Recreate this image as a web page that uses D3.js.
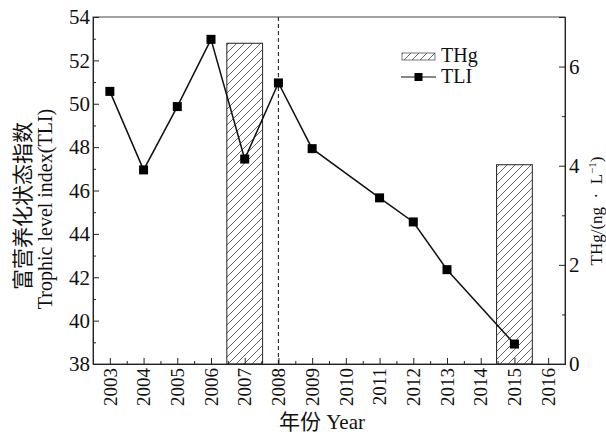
<!DOCTYPE html>
<html><head><meta charset="utf-8">
<script src="https://cdn.jsdelivr.net/npm/d3@7"></script>
<style>
html,body{margin:0;padding:0;background:#fff;}
</style></head><body>
<svg id="c" width="606" height="434"></svg>
<script>
const years = [2003,2004,2005,2006,2007,2008,2009,2011,2012,2013,2015];
const tli = [50.57,46.95,49.87,52.97,47.45,50.96,47.93,45.66,44.55,42.35,38.92];
const thgYears = [2007,2015];
const thg = [6.47,4.02];
const xTickYears = [2003,2004,2005,2006,2007,2008,2009,2010,2011,2012,2013,2014,2015,2016];
const leftTicks = [38,40,42,44,46,48,50,52,54];
const rightTicks = [0,2,4,6];
const markYear = 2008;

const SERIF = "'Liberation Serif','Times New Roman','DejaVu Serif',serif";
const CJK = "'Liberation Serif','Noto Sans CJK SC',serif";

const svg = d3.select("#c");
const L=93, R=565, T=17, B=364;
const x = d3.scaleLinear().domain([2002.5,2016.5]).range([L,R]);
const yL = d3.scaleLinear().domain([38,54]).range([B,T]);
const yR = d3.scaleLinear().domain([0,7]).range([B,T]);

const defs = svg.append("defs");
const pat = defs.append("pattern").attr("id","hatch").attr("patternUnits","userSpaceOnUse")
  .attr("width",8).attr("height",8);
pat.append("path").attr("d","M-2,2 L2,-2 M0,8 L8,0 M6,10 L10,6").attr("stroke","#555").attr("stroke-width",0.9);

// bars
const bw = 1.06;
svg.selectAll("rect.bar").data(thgYears).join("rect").attr("class","bar")
  .attr("x",d=>x(d-bw/2)).attr("width",d=>x(d+bw/2)-x(d-bw/2))
  .attr("y",(d,i)=>yR(thg[i])).attr("height",(d,i)=>yR(0)-yR(thg[i]))
  .attr("fill","url(#hatch)").attr("stroke","#222").attr("stroke-width",1);

// dashed line
svg.append("line").attr("x1",x(markYear)).attr("x2",x(markYear)).attr("y1",T).attr("y2",B)
  .attr("stroke","#333").attr("stroke-width",1.2).attr("stroke-dasharray","4,3");

// frame
svg.append("rect").attr("x",L).attr("y",T).attr("width",R-L).attr("height",B-T)
  .attr("fill","none").attr("stroke","#444").attr("stroke-width",1);

// axes
const minorL = d3.range(39,54,2);
const gL = svg.append("g").attr("transform",`translate(${L},0)`);
gL.call(d3.axisRight(yL).tickValues(leftTicks).tickSize(6).tickFormat(""));
gL.call(g=>g.select(".domain").attr("stroke","#222"));
const gLm = svg.append("g").attr("transform",`translate(${L},0)`)
  .call(d3.axisRight(yL).tickValues(minorL).tickSize(3).tickFormat(""));
gLm.select(".domain").remove();
svg.append("g").selectAll("text").data(leftTicks).join("text")
  .attr("x",L-3).attr("y",d=>yL(d)).attr("dy","0.35em").attr("text-anchor","end")
  .attr("font-family",SERIF).attr("font-size",21).attr("fill","#111").text(d=>d);

const gR = svg.append("g").attr("transform",`translate(${R},0)`)
  .call(d3.axisLeft(yR).tickValues(rightTicks).tickSize(6).tickFormat(""));
gR.select(".domain").attr("stroke","#222");
const gRm = svg.append("g").attr("transform",`translate(${R},0)`)
  .call(d3.axisLeft(yR).tickValues([1,3,5]).tickSize(3).tickFormat(""));
gRm.select(".domain").remove();
svg.append("g").selectAll("text").data(rightTicks).join("text")
  .attr("x",R+4).attr("y",d=>yR(d)).attr("dy","0.35em").attr("text-anchor","start")
  .attr("font-family",SERIF).attr("font-size",21).attr("fill","#111").text(d=>d);

const gB = svg.append("g").attr("transform",`translate(0,${B})`)
  .call(d3.axisTop(x).tickValues(xTickYears).tickSize(6).tickFormat(""));
gB.select(".domain").attr("stroke","#222");
const gBm = svg.append("g").attr("transform",`translate(0,${B})`)
  .call(d3.axisTop(x).tickValues(d3.range(2003.5,2016,1)).tickSize(3).tickFormat(""));
gBm.select(".domain").remove();
svg.selectAll("g.tick line").attr("stroke","#222");
svg.append("g").selectAll("text").data(xTickYears).join("text")
  .attr("transform",d=>`translate(${x(d)},${B+4}) rotate(-90)`)
  .attr("dy","0.35em").attr("text-anchor","end")
  .attr("font-family",SERIF).attr("font-size",19).attr("fill","#111").text(d=>d);

// TLI line and markers
const line = d3.line().x((d,i)=>x(years[i])).y(d=>yL(d));
svg.append("path").datum(tli).attr("d",line).attr("fill","none").attr("stroke","#111").attr("stroke-width",1.5);
svg.selectAll("rect.mk").data(tli).join("rect").attr("class","mk")
  .attr("x",(d,i)=>x(years[i])-4.5).attr("y",d=>yL(d)-4.5).attr("width",9).attr("height",9).attr("fill","#000");

// legend
const lg = svg.append("g");
lg.append("rect").attr("x",402).attr("y",53).attr("width",33).attr("height",7)
  .attr("fill","url(#hatch)").attr("stroke","#555").attr("stroke-width",0.8);
lg.append("text").attr("x",441).attr("y",62).attr("font-family",SERIF).attr("font-size",20).attr("fill","#111").text("THg");
lg.append("line").attr("x1",401).attr("x2",436).attr("y1",77).attr("y2",77).attr("stroke","#111").attr("stroke-width",1);
lg.append("rect").attr("x",414.5).attr("y",73).attr("width",8).attr("height",8).attr("fill","#000");
lg.append("text").attr("x",441).attr("y",83).attr("font-family",SERIF).attr("font-size",20).attr("fill","#111").text("TLI");

// axis titles
svg.append("text").attr("transform","translate(30,206) rotate(-90)")
  .attr("text-anchor","middle").attr("font-family",CJK).attr("font-size",21).attr("fill","#111").text("富营养化状态指数");
svg.append("text").attr("transform","translate(52,209) rotate(-90)")
  .attr("text-anchor","middle").attr("font-family",SERIF).attr("font-size",20).attr("fill","#111").text("Trophic level index(TLI)");
const rt = svg.append("text").attr("transform","translate(602,211) rotate(-90)")
  .attr("text-anchor","middle").attr("font-family",SERIF).attr("font-size",17).attr("fill","#111");
rt.append("tspan").text("THg/(ng\u2002·\u2002L");
rt.append("tspan").attr("dy",-6).attr("font-size",11).text("−1");
rt.append("tspan").attr("dy",6).text(")");
svg.append("text").attr("x",322).attr("y",429).attr("text-anchor","middle")
  .attr("font-family",CJK).attr("font-size",21).attr("fill","#111").text("年份 Year");
</script></body></html>
